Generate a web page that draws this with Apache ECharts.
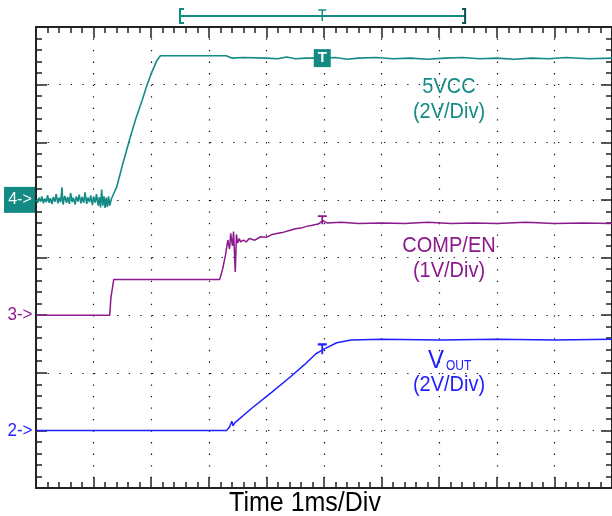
<!DOCTYPE html>
<html>
<head>
<meta charset="utf-8">
<script src="https://cdn.jsdelivr.net/npm/echarts@6/dist/echarts.min.js"></script>
<style>
  html, body { margin: 0; padding: 0; background: #fff; }
  #main { width: 612px; height: 516px; }
</style>
</head>
<body>
<div id="main"></div>
<script>
// time in divisions (1ms/div), level in divisions
const vccTrace = [
  [0, 5.0], [0.03, 4.95], [0.05, 5.04], [0.08, 4.97], [0.1, 5.06], [0.13, 4.94], [0.15, 5.02],
  [0.18, 4.96], [0.2, 5.08], [0.23, 4.95], [0.25, 5.03], [0.28, 4.93], [0.3, 5.05], [0.33, 4.97],
  [0.35, 5.1], [0.38, 4.94], [0.4, 5.04], [0.43, 4.96], [0.45, 5.22], [0.47, 4.92], [0.5, 5.07],
  [0.53, 4.95], [0.55, 5.05], [0.58, 4.93], [0.6, 5.12], [0.63, 4.96], [0.65, 5.04], [0.68, 4.92],
  [0.7, 5.06], [0.73, 4.97], [0.75, 5.09], [0.78, 4.94], [0.8, 5.05], [0.83, 4.95], [0.85, 5.13],
  [0.88, 4.93], [0.9, 5.04], [0.93, 4.96], [0.95, 5.08], [0.98, 4.91], [1.0, 5.06], [1.03, 4.95],
  [1.05, 5.1], [1.08, 4.9], [1.1, 5.05], [1.12, 4.87], [1.14, 5.18], [1.16, 4.9], [1.18, 5.06],
  [1.2, 4.86], [1.22, 5.04], [1.24, 4.88], [1.26, 5.06], [1.28, 4.9], [1.31, 5.02],
  [1.4, 5.22], [1.5, 5.6], [1.62, 6.03], [1.73, 6.4], [1.84, 6.72], [1.93, 7.0], [2.0, 7.19],
  [2.1, 7.42], [2.16, 7.5], [2.7, 7.5], [3.3, 7.5], [3.4, 7.46], [3.6, 7.47], [4.0, 7.46],
  [4.2, 7.45], [4.35, 7.48], [4.5, 7.45], [4.7, 7.46], [5.0, 7.46], [5.2, 7.47], [5.4, 7.44],
  [5.6, 7.46], [5.9, 7.47], [6.2, 7.45], [6.5, 7.46], [6.8, 7.44], [7.1, 7.46], [7.4, 7.47],
  [7.7, 7.45], [8.0, 7.46], [8.3, 7.44], [8.6, 7.46], [8.9, 7.45], [9.2, 7.47], [9.6, 7.45], [10, 7.46]
];
const compTrace = [
  [0, 3.0], [1.28, 3.0], [1.3, 3.3], [1.35, 3.62], [3.19, 3.62], [3.24, 3.8], [3.29, 4.04],
  [3.33, 4.3], [3.36, 4.15], [3.38, 4.42], [3.41, 4.2], [3.43, 4.45], [3.46, 3.75], [3.48, 4.4],
  [3.5, 4.25], [3.53, 4.33], [3.55, 4.27], [3.6, 4.3], [3.65, 4.27], [3.7, 4.33], [3.8, 4.3],
  [3.9, 4.36], [4.0, 4.35], [4.1, 4.4], [4.2, 4.42], [4.3, 4.44], [4.4, 4.47], [4.5, 4.5],
  [4.6, 4.51], [4.7, 4.54], [4.8, 4.56], [4.9, 4.58], [4.98, 4.64], [5.05, 4.6], [5.3, 4.61],
  [5.6, 4.59], [6.0, 4.6], [6.4, 4.59], [6.8, 4.61], [7.2, 4.59], [7.6, 4.6], [8.0, 4.59],
  [8.5, 4.61], [9.0, 4.59], [9.5, 4.6], [10, 4.59]
];
const voutTrace = [
  [0, 1.0], [3.31, 1.0], [3.36, 1.06], [3.4, 1.16], [3.42, 1.08], [3.45, 1.13], [3.74, 1.38],
  [4.09, 1.66], [4.43, 1.94], [4.66, 2.14], [4.86, 2.33], [5.0, 2.41], [5.22, 2.52], [5.47, 2.57],
  [6.0, 2.58], [7.0, 2.57], [8.0, 2.58], [9.0, 2.57], [10, 2.58]
];

const channelNames = ['4->', '3->', '2->'];
const channelGround = [5, 3, 1];
const triggerTime = 4.97;
const recordWindow = [2.5, 7.45];

const teal = '#148a85';
const purple = '#8c1a8c';
const blue = '#1f1fff';
const frame = '#222';
const font = 'Liberation Sans';

const teePath = 'path://M0,0 L10,0 L10,2 L6,2 L6,10 L4,10 L4,2 L0,2 Z';

function axisBase(pos, splitDash) {
  return {
    type: 'value',
    position: pos,
    axisLine: { show: true, onZero: false, lineStyle: { color: frame, width: 2 } },
    axisTick: { show: true, inside: true, length: 11, lineStyle: { color: frame, width: 1.5 } },
    minorTick: { show: true, splitNumber: 5, length: 6, lineStyle: { color: frame, width: 1.5 } },
    axisLabel: { show: false },
    splitLine: splitDash
      ? { show: true, lineStyle: { color: '#111', width: 1.2, type: splitDash } }
      : { show: false }
  };
}

const chart = echarts.init(document.getElementById('main'));
chart.setOption({
  animation: false,
  backgroundColor: '#fff',
  grid: { left: 36, top: 27, width: 580, height: 461 },
  xAxis: [
    Object.assign(axisBase('bottom', [1.3, 10.23]), { min: 0, max: 10, interval: 1 }),
    Object.assign(axisBase('top', null), { min: 0, max: 10, interval: 1 })
  ],
  yAxis: [
    Object.assign(axisBase('left', [1.3, 10.3]), { min: 0, max: 8, interval: 1 }),
    Object.assign(axisBase('right', null), { min: 0, max: 8, interval: 1 })
  ],
  series: [
    {
      name: '5VCC', type: 'line', data: vccTrace, symbol: 'none',
      lineStyle: { color: teal, width: 1.6 },
      markPoint: {
        symbol: 'rect', symbolSize: [17, 18],
        itemStyle: { color: teal },
        label: { show: true, formatter: 'T', color: '#fff', fontSize: 15, fontWeight: 'bold', fontFamily: font },
        data: [{ coord: [triggerTime, 7.46] }]
      }
    },
    {
      name: 'COMP/EN', type: 'line', data: compTrace, symbol: 'none',
      lineStyle: { color: purple, width: 1.5 },
      markPoint: {
        symbol: teePath, symbolSize: [9, 9], symbolOffset: [0, -2],
        itemStyle: { color: purple }, label: { show: false },
        data: [{ coord: [triggerTime, 4.62] }]
      }
    },
    {
      name: 'VOUT', type: 'line', data: voutTrace, symbol: 'none',
      lineStyle: { color: blue, width: 1.5 },
      markPoint: {
        symbol: teePath, symbolSize: [9, 11], symbolOffset: [0, -1],
        itemStyle: { color: blue }, label: { show: false },
        data: [{ coord: [triggerTime, 2.4] }]
      }
    }
  ]
});

// annotations placed from data coordinates
const px = (x, y) => chart.convertToPixel({ gridIndex: 0 }, [x, y]);
const chanColors = [teal, purple, blue];
const graphics = [];

channelNames.forEach((name, i) => {
  const p = px(0, channelGround[i]);
  if (i === 0) {
    graphics.push({ type: 'rect', shape: { x: 4, y: p[1] - 13, width: 32, height: 26 }, style: { fill: teal } });
    graphics.push({ type: 'text', x: 20, y: p[1], style: { text: name, fill: '#fff', font: '16px "' + font + '"', align: 'center', verticalAlign: 'middle' } });
  } else {
    graphics.push({ type: 'text', x: 20, y: p[1], scaleY: 1.1, style: { text: name, fill: chanColors[i], font: '17px "' + font + '"', align: 'center', verticalAlign: 'middle' } });
  }
});

// record window bracket above the screen
const bl = px(recordWindow[0], 8)[0];
const br = px(recordWindow[1], 8)[0];
const bt = px(triggerTime, 8)[0];
const by = 16;
graphics.push(
  { type: 'line', shape: { x1: bl, y1: by, x2: br, y2: by }, style: { stroke: teal, lineWidth: 2 } },
  { type: 'polyline', shape: { points: [[bl + 4, 9], [bl, 9], [bl, 23], [bl + 4, 23]] }, style: { stroke: teal, lineWidth: 2, fill: null } },
  { type: 'polyline', shape: { points: [[br - 3, 9], [br, 9], [br, 23], [br - 3, 23]] }, style: { stroke: '#0c4f4c', lineWidth: 2, fill: null } },
  { type: 'line', shape: { x1: bt - 4, y1: 10, x2: bt + 4, y2: 10 }, style: { stroke: teal, lineWidth: 1.5 } },
  { type: 'line', shape: { x1: bt, y1: 10, x2: bt, y2: 21 }, style: { stroke: teal, lineWidth: 1.5 } }
);

function label(text, x, y, color, size) {
  return { type: 'text', x: x, y: y, scaleY: 1.12, style: { text: text, fill: color, font: size + 'px "' + font + '"', align: 'center', verticalAlign: 'middle' } };
}
graphics.push(
  label('5VCC', 449, 87, teal, 20),
  label('(2V/Div)', 449, 112, teal, 20),
  label('COMP/EN', 449, 246, purple, 20),
  label('(1V/Div)', 449, 271, purple, 20),
  { type: 'text', x: 428, y: 361, scaleY: 1.1, style: { text: 'V', fill: blue, font: '24px "' + font + '"', align: 'left', verticalAlign: 'middle' } },
  { type: 'text', x: 446, y: 366, scaleY: 1.25, style: { text: 'OUT', fill: blue, font: '12px "' + font + '"', align: 'left', verticalAlign: 'middle' } },
  label('(2V/Div)', 449, 385, blue, 20),
  label('Time 1ms/Div', 305, 503, '#000', 25)
);

chart.setOption({ graphic: graphics });
</script>
</body>
</html>
